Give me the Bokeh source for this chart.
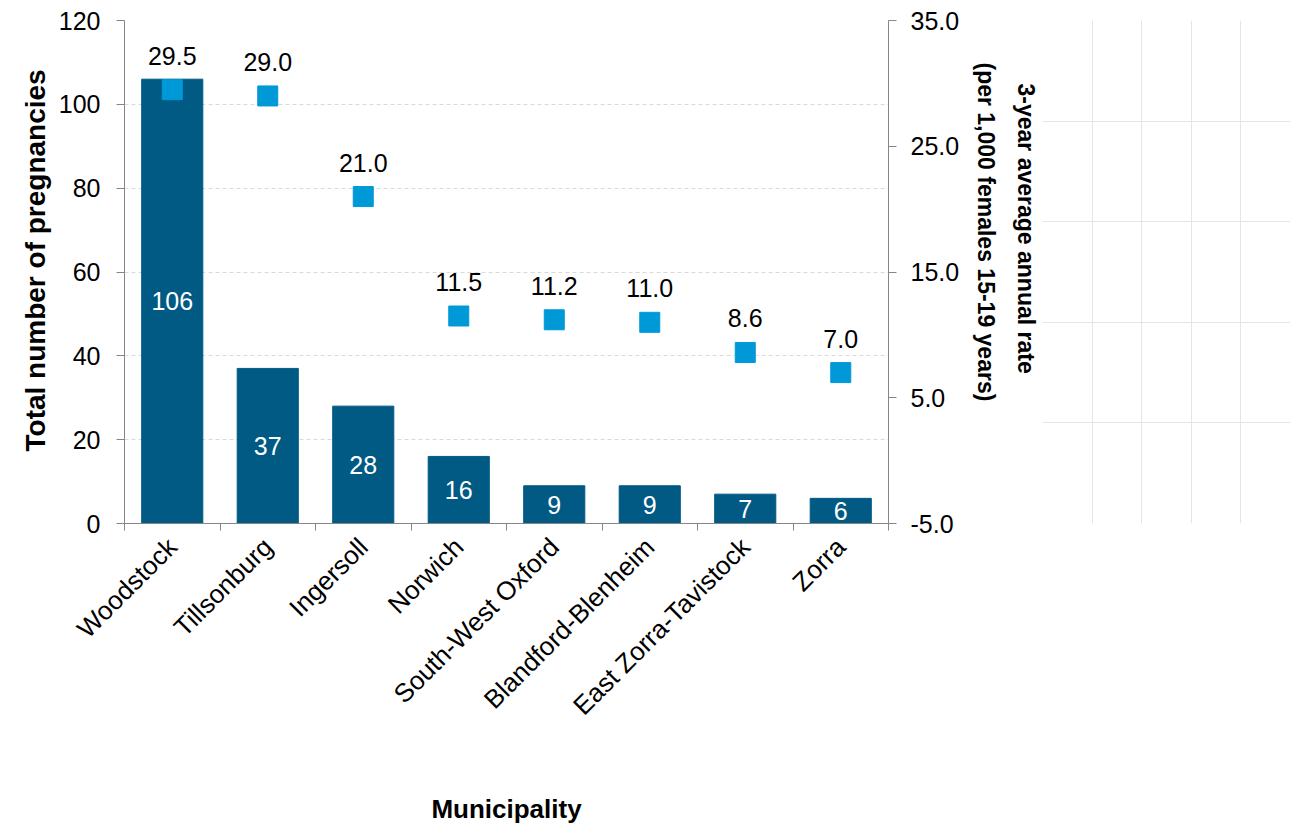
from math import pi
from bokeh.plotting import figure
from bokeh.layouts import row
from bokeh.models import (FactorRange, Range1d, LinearAxis, CategoricalAxis, FixedTicker, Title,
                          NumeralTickFormatter, Legend, LegendItem, ColumnDataSource)
from bokeh.core.properties import value
from bokeh.embed import file_html
from bokeh.resources import INLINE

municipalities = ["Woodstock", "Tillsonburg", "Ingersoll", "Norwich", "South-West Oxford",
                  "Blandford-Blenheim", "East Zorra-Tavistock", "Zorra"]
counts = [106, 37, 28, 16, 9, 9, 7, 6]
rates = [29.5, 29.0, 21.0, 11.5, 11.2, 11.0, 8.6, 7.0]
left_ticks = [0, 20, 40, 60, 80, 100, 120]
right_ticks = [-5, 5, 15, 25, 35]
series_names = ["Count", "Rate (per 1,000)"]

FONT = "Liberation Sans"
BAR = "#005A84"
MARK = "#0099D8"
AXIS = "#868686"

src = ColumnDataSource(dict(
    m=municipalities,
    count=counts,
    half=[c / 2 for c in counts],
    count_lbl=[str(c) for c in counts],
    rate=rates,
    rate_lbl=["%.1f" % r for r in rates],
))

p = figure(x_range=FactorRange(factors=municipalities), y_range=Range1d(left_ticks[0], left_ticks[-1]),
           width=1042, height=827, output_backend="svg", toolbar_location=None,
           x_axis_location=None, min_border_left=124, min_border_right=152,
           min_border_top=20, min_border_bottom=303)
p.extra_y_ranges = {"rate": Range1d(right_ticks[0], right_ticks[-1])}
p.outline_line_color = None
p.background_fill_color = "white"
p.border_fill_color = "white"
for g in p.xgrid:
    g.visible = False

# grid
p.ygrid.ticker = FixedTicker(ticks=left_ticks)
p.ygrid.grid_line_color = "#D9D9D9"
p.ygrid.grid_line_dash = "4 3"
p.ygrid.grid_line_width = 1

# left axis
ya = p.yaxis[0]
ya.ticker = FixedTicker(ticks=left_ticks)
ya.major_label_text_font = FONT
ya.major_label_text_font_size = "25px"
ya.major_label_text_color = "black"
ya.major_label_standoff = 16
ya.axis_line_color = AXIS
ya.major_tick_line_color = AXIS
ya.major_tick_out = 8
ya.major_tick_in = 0
ya.minor_tick_line_color = None

left_title = Title(text="Total number of pregnancies", align="left", offset=72, standoff=10,
                   text_font=FONT, text_font_style="bold", text_font_size="28px", text_color="black")
p.add_layout(left_title, "left")

# bars
p.vbar(x="m", top="count", width=0.64, source=src, fill_color=BAR, line_color=BAR)
p.text(x="m", y="half", text="count_lbl", source=src, text_color="white",
       text_font=value(FONT), text_font_size="25px", text_align="center", text_baseline="middle")

# rate markers and labels
p.rect(x="m", y="rate", width=20, height=20, width_units="screen", height_units="screen",
       y_range_name="rate", source=src, fill_color=MARK, line_color=MARK)
p.text(x="m", y="rate", text="rate_lbl", source=src, y_range_name="rate", y_offset=-34,
       text_color="black", text_font=value(FONT), text_font_size="25px",
       text_align="center", text_baseline="middle")

# x axis: tick marks at category boundaries (synthetic coordinates 0..N)
edge_axis = LinearAxis(ticker=FixedTicker(ticks=list(range(len(municipalities) + 1))))
edge_axis.major_label_overrides = {i: "" for i in range(len(municipalities) + 1)}
edge_axis.major_label_text_font_size = "1px"
edge_axis.major_label_standoff = 0
edge_axis.axis_line_color = AXIS
edge_axis.major_tick_line_color = AXIS
edge_axis.major_tick_out = 7
edge_axis.major_tick_in = 0
edge_axis.minor_tick_line_color = None
p.add_layout(edge_axis, "below")

cat_axis = CategoricalAxis()
cat_axis.axis_line_color = None
cat_axis.major_tick_line_color = None
cat_axis.major_tick_out = 0
cat_axis.major_label_orientation = pi / 4
cat_axis.major_label_text_font = FONT
cat_axis.major_label_text_font_size = "26px"
cat_axis.major_label_text_color = "black"
cat_axis.major_label_standoff = 12
cat_axis.axis_label = "Municipality"
cat_axis.axis_label_text_font = FONT
cat_axis.axis_label_text_font_style = "bold"
cat_axis.axis_label_text_font_size = "26px"
cat_axis.axis_label_text_color = "black"
cat_axis.axis_label_standoff = 60
p.add_layout(cat_axis, "below")

# right axis
ra = LinearAxis(y_range_name="rate", ticker=FixedTicker(ticks=right_ticks),
                formatter=NumeralTickFormatter(format="0.0"))
ra.major_label_text_font = FONT
ra.major_label_text_font_size = "25px"
ra.major_label_text_color = "black"
ra.major_label_standoff = 14
ra.axis_line_color = AXIS
ra.major_tick_line_color = AXIS
ra.major_tick_out = 8
ra.major_tick_in = 0
ra.minor_tick_line_color = None
p.add_layout(ra, "right")

right_title_2 = Title(text="(per 1,000 females 15-19 years)", align="left", offset=42, standoff=20,
                      text_font=FONT, text_font_style="bold", text_font_size="23px", text_color="black")
p.add_layout(right_title_2, "right")
right_title_1 = Title(text="3-year average annual rate", align="left", offset=63, standoff=4,
                      text_font=FONT, text_font_style="bold", text_font_size="23px", text_color="black")
p.add_layout(right_title_1, "right")

# legend panel (separate figure to the right)
lf = figure(width=248, height=827, output_backend="svg", toolbar_location=None,
            x_axis_location=None, y_axis_location=None, x_range=Range1d(0, 1), y_range=Range1d(0, 1),
            min_border_left=0, min_border_right=0, min_border_top=0, min_border_bottom=0)
lf.outline_line_color = None
lf.background_fill_color = "white"
lf.border_fill_color = "white"
leg_bar = lf.vbar(x=[], top=[], width=0.5, fill_color=BAR, line_color=BAR)
leg_mark = lf.rect(x=[], y=[], width=20, height=20, width_units="screen", height_units="screen",
                   fill_color=MARK, line_color=MARK)

legend = Legend(items=[LegendItem(label=series_names[0], renderers=[leg_bar]),
                       LegendItem(label=series_names[1], renderers=[leg_mark])],
                location=(8, 521), orientation="vertical")
legend.label_text_font = FONT
legend.label_text_font_size = "26px"
legend.label_text_color = "black"
legend.glyph_width = 18
legend.glyph_height = 18
legend.label_standoff = 5
legend.spacing = 18
legend.padding = 10
legend.margin = 0
legend.border_line_color = None
legend.background_fill_alpha = 0
lf.add_layout(legend, "center")

layout = row(p, lf, spacing=0)
open("out.html", "w").write(file_html(layout, INLINE))
